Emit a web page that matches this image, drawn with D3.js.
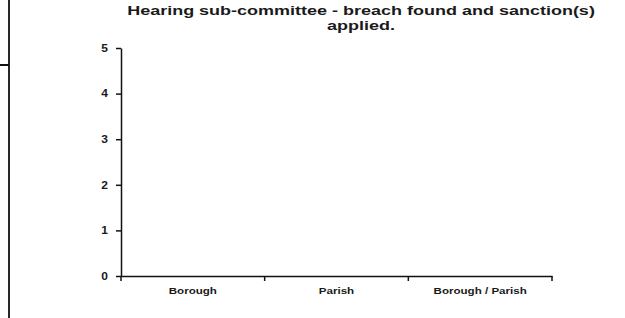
<!DOCTYPE html>
<html>
<head>
<meta charset="utf-8">
<script src="https://cdn.jsdelivr.net/npm/d3@7"></script>
<style>
body { margin: 0; background: #fff; }
svg { display: block; font-family: "Liberation Sans", Arial, sans-serif; }
.axis path, .axis line { stroke: #111; stroke-width: 1.5; }
.axis text { fill: #1a1a1a; font-weight: bold; }
</style>
</head>
<body>
<svg width="625" height="318"></svg>
<script>
var categories = ["Borough", "Parish", "Borough / Parish"],
	values = [0, 0, 0],
	yTicks = [0, 1, 2, 3, 4, 5],
	titleLines = ["Hearing sub-committee - breach found and sanction(s)", "applied."];

var svg = d3.select("svg"),
	margin = {top: 48, left: 121, right: 73, bottom: 42},
	width = 625 - margin.left - margin.right,
	height = 318 - margin.top - margin.bottom;

// frame lines of the neighbouring boxes on the left edge
svg.append("path")
	.attr("d", "M9,0V65H0M9,65V318")
	.attr("fill", "none")
	.attr("stroke", "#111")
	.attr("stroke-width", 1.8);

var x = d3.scaleBand().domain(categories).range([0, width]).padding(0),
	y = d3.scaleLinear().domain([0, 5]).range([height, 0]);

var g = svg.append("g")
	.attr("transform", "translate(" + margin.left + "," + margin.top + ")");

var ySx = 1.2;
g.append("g")
	.attr("class", "axis axis--y")
	.call(d3.axisLeft(y).tickValues(yTicks).tickFormat(d3.format("d")).tickSize(5).tickPadding(8).tickSizeOuter(0))
	.call(function(a){
		a.selectAll("text")
			.style("font-size", "10px")
			.attr("x", -13 / ySx)
			.attr("transform", "scale(" + ySx + ",1)");
	});

var xSx = 1.22;
var xa = g.append("g")
	.attr("class", "axis axis--x")
	.attr("transform", "translate(0," + height + ")")
	.call(d3.axisBottom(x).tickSize(0).tickPadding(11).tickSizeOuter(0));
xa.selectAll("text")
	.style("font-size", "9.5px")
	.attr("transform", "scale(" + xSx + ",1)");

// category boundary ticks
xa.selectAll(".edge")
	.data(categories.map(function(c){ return x(c); }).concat([width]))
	.enter().append("line")
	.attr("class", "edge")
	.attr("x1", function(d){ return d; })
	.attr("x2", function(d){ return d; })
	.attr("y1", 0)
	.attr("y2", 5);

// bars (all zero)
g.selectAll(".bar")
	.data(values)
	.enter().append("rect")
	.attr("class", "bar")
	.attr("x", function(d, i){ return x(categories[i]) + x.bandwidth() * 0.25; })
	.attr("y", function(d){ return y(d); })
	.attr("width", x.bandwidth() * 0.5)
	.attr("height", function(d){ return height - y(d); })
	.attr("fill", "#9999ff");

var tSx = 1.385;
svg.append("g")
	.attr("transform", "translate(361,15) scale(" + tSx + ",1)")
	.append("text")
	.attr("text-anchor", "middle")
	.style("font-size", "13px")
	.style("font-weight", "bold")
	.attr("fill", "#1a1a1a")
	.selectAll("tspan")
	.data(titleLines)
	.enter().append("tspan")
	.attr("x", 0)
	.attr("dy", function(d, i){ return i ? 15 : 0; })
	.text(function(d){ return d; });
</script>
</body>
</html>
